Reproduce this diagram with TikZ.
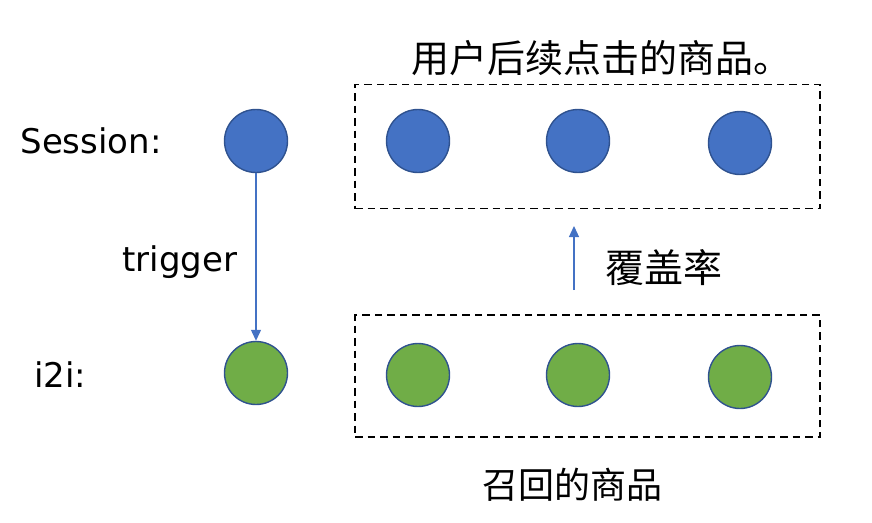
\documentclass[tikz,border=0pt]{standalone}
\usepackage{fontspec}
\setmainfont{DejaVu Sans}
\newfontfamily\cjk{Noto Sans CJK SC}
\usetikzlibrary{arrows.meta}
\definecolor{bluefill}{HTML}{4472C4}
\definecolor{greenfill}{HTML}{70AD47}
\definecolor{ringcol}{HTML}{2F528F}
\begin{document}
\begin{tikzpicture}[x=1pt,y=-1pt,
  dot/.style={circle,minimum size=63pt,inner sep=0pt,draw=ringcol,line width=1.4pt},
  bdot/.style={dot,fill=bluefill},
  gdot/.style={dot,fill=greenfill},
  group/.style={draw=black,dashed,dash pattern=on 7.5pt off 5pt,line width=1.5pt},
  lat/.style={font=\fontsize{34}{40}\selectfont,inner sep=0pt},
  han/.style={font=\cjk\fontsize{36}{42}\selectfont,inner sep=0pt},
  link/.style={draw=bluefill,line width=1.2pt,-{Triangle[length=11pt,width=10pt]}}]
\useasboundingbox (0,0) rectangle (872,522);
\node[group,minimum width=465pt,minimum height=124pt] (top) at (587.5,146.5) {};
\node[group,minimum width=465pt,minimum height=122pt] (bot) at (587.5,376) {};
\node[bdot] (s0) at (256,141) {};
\node[bdot] (s1) at (418,141) {};
\node[bdot] (s2) at (578,141) {};
\node[bdot] (s3) at (740,143) {};
\node[gdot] (g0) at (256,373) {};
\node[gdot] (g1) at (418,375) {};
\node[gdot] (g2) at (578,375) {};
\node[gdot] (g3) at (740,377) {};
\node[lat] (ls) at (91,141) {Session:};
\node[lat] (lt) at (180,262) {trigger};
\node[lat] (li) at (60,375) {i2i:};
\node[han,font=\cjk\fontsize{38}{44}\selectfont] (ltop) at (601,58) {用户后续点击的商品。};
\node[han,font=\cjk\fontsize{39}{44}\selectfont] (lcov) at (664,268) {覆盖率};
\node[han] (lbot) at (572,485) {召回的商品};
\coordinate (cs) at (574,290);
\coordinate (ce) at (574,226);
\draw[link] (s0) -- (g0);
\draw[link] (cs) -- (ce);
\end{tikzpicture}
\end{document}
